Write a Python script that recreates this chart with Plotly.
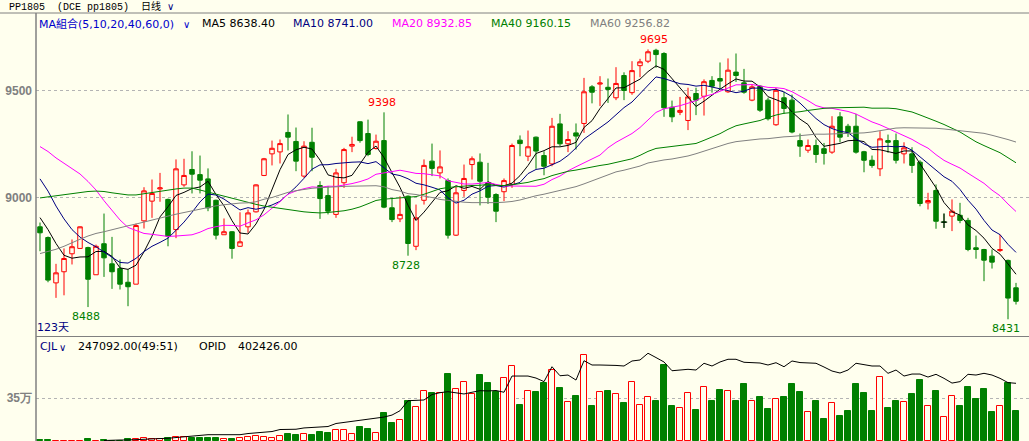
import plotly.graph_objects as go
import pandas as pd

# ---------------- data ----------------
open_ = [8863, 8813, 8601, 8653, 8737, 8762, 8766, 8639, 8784, 8690,
         8668, 8604, 8595, 8891, 8983, 9040, 8991, 8850, 9059, 9131,
         9107, 9087, 8987, 8826, 8840, 8772, 8863, 8933, 9103, 9204,
         9213, 9304, 9262, 9100, 9258, 9056, 9009, 8921, 9069, 9240,
         9354, 9299, 9229, 9266, 8952, 8900, 9006, 8772, 8987, 9170,
         9115, 9079, 8824, 9033, 9154, 9165, 9069, 9014, 9027, 9061,
         9268, 9193, 9282, 9196, 9157, 9344, 9251, 9302, 9346, 9517,
         9530, 9515, 9466, 9570, 9490, 9616, 9637, 9688, 9673, 9422,
         9398, 9360, 9486, 9473, 9547, 9556, 9494, 9586, 9536, 9455,
         9520, 9455, 9340, 9466, 9455, 9266, 9221, 9243, 9228, 9212,
         9377, 9333, 9333, 9214, 9174, 9134, 9266, 9266, 9204, 9204,
         9165, 8975, 9033, 8885, 8913, 8917, 8893, 8765, 8757, 8726,
         8752, 8706, 8578]
high = [8883, 8818, 8690, 8762, 8804, 8865, 8770, 8780, 8925, 8816,
        8710, 8664, 8878, 9048, 9084, 9115, 8995, 9178, 9181, 9216,
        9196, 9136, 8990, 8902, 8843, 8931, 8944, 9062, 9185, 9266,
        9271, 9388, 9327, 9263, 9326, 9076, 9053, 9134, 9232, 9284,
        9356, 9364, 9294, 9398, 8998, 9006, 9010, 8967, 9178, 9252,
        9220, 9089, 9050, 9154, 9192, 9206, 9162, 9020, 9089, 9252,
        9290, 9313, 9285, 9216, 9372, 9391, 9310, 9346, 9559, 9525,
        9567, 9556, 9609, 9585, 9637, 9648, 9692, 9695, 9679, 9453,
        9470, 9513, 9513, 9552, 9567, 9631, 9650, 9673, 9601, 9530,
        9525, 9466, 9512, 9494, 9481, 9299, 9271, 9271, 9255, 9380,
        9399, 9344, 9391, 9218, 9196, 9310, 9294, 9299, 9258, 9235,
        9174, 9022, 9061, 8925, 8991, 8975, 8905, 8822, 8760, 8757,
        8827, 8710, 8601]
low = [8749, 8604, 8531, 8543, 8687, 8760, 8488, 8639, 8629, 8573,
       8570, 8492, 8595, 8855, 8905, 8980, 8772, 8810, 9050, 9019,
       9019, 8936, 8804, 8826, 8714, 8770, 8835, 8930, 9100, 9150,
       9159, 9220, 9123, 9092, 9123, 8900, 8921, 8905, 9045, 9212,
       9256, 9193, 9224, 8950, 8885, 8885, 8728, 8754, 8967, 9100,
       9089, 8808, 8820, 9003, 9084, 8963, 8970, 8885, 8983, 9045,
       9193, 9170, 9134, 9104, 9146, 9240, 9212, 9224, 9302, 9440,
       9427, 9442, 9455, 9455, 9480, 9562, 9628, 9606, 9377, 9352,
       9385, 9315, 9385, 9383, 9490, 9509, 9489, 9540, 9485, 9450,
       9400, 9360, 9335, 9391, 9300, 9190, 9209, 9162, 9154, 9204,
       9258, 9283, 9205, 9118, 9139, 9100, 9209, 9159, 9159, 9115,
       8959, 8944, 8854, 8858, 8843, 8880, 8749, 8714, 8609, 8668,
       8745, 8431, 8500]
close = [8835, 8614, 8648, 8715, 8770, 8863, 8618, 8772, 8718, 8653,
         8595, 8583, 8869, 9031, 9019, 9045, 8819, 9134, 9103, 9109,
         9081, 8952, 8824, 8840, 8762, 8793, 8928, 9059, 9181, 9230,
         9252, 9282, 9170, 9240, 9188, 8995, 8936, 9115, 9224, 9248,
         9266, 9201, 9263, 8955, 8897, 8921, 8785, 8905, 9150, 9136,
         9143, 8824, 9022, 9089, 9181, 9076, 9001, 8936, 9079, 9243,
         9252, 9237, 9217, 9146, 9333, 9251, 9271, 9287, 9494, 9492,
         9535, 9505, 9533, 9500, 9593, 9634, 9681, 9668, 9419, 9377,
         9407, 9470, 9455, 9541, 9520, 9544, 9595, 9570, 9492, 9517,
         9408, 9368, 9501, 9416, 9306, 9240, 9243, 9201, 9206, 9333,
         9282, 9305, 9212, 9174, 9150, 9274, 9258, 9174, 9232, 9150,
         8972, 8986, 8889, 8885, 8936, 8893, 8757, 8757, 8707, 8698,
         8757, 8530, 8515]
volume = [8000, 8000, 2000, 2000, 2000, 2000, 16000, 2000, 8000, 3000,
          3000, 14000, 14000, 22000, 14000, 16000, 22000, 30000, 30000, 27000,
          27000, 27000, 27000, 14000, 19000, 24000, 35000, 43000, 35000, 27000,
          43000, 55000, 46000, 55000, 46000, 76000, 63000, 90000, 90000, 55000,
          116000, 100000, 68000, 225000, 144000, 171000, 328000, 274000, 409000, 388000,
          388000, 545000, 421000, 483000, 383000, 537000, 470000, 396000, 510000, 610000,
          293000, 409000, 396000, 475000, 578000, 429000, 315000, 366000, 700000, 285000,
          396000, 407000, 380000, 312000, 478000, 291000, 356000, 326000, 619000, 285000,
          266000, 388000, 252000, 437000, 326000, 415000, 405000, 326000, 464000, 323000,
          358000, 260000, 339000, 358000, 464000, 399000, 236000, 326000, 179000, 309000,
          204000, 244000, 464000, 391000, 244000, 518000, 269000, 326000, 315000, 383000,
          497000, 282000, 407000, 193000, 364000, 285000, 440000, 342000, 423000, 236000,
          282000, 472000, 247092]
opid = [None, None, None, None, None, None, None, None, 3500, 7000,
        7000, 7000, 10500, 12000, 14000, 17000, 19000, 24000, 31000, 38000,
        44000, 44000, 44000, 44000, 44000, 44000, 52000, 58000, 63000, 66000,
        80000, 82000, 82000, 91000, 96000, 98000, 101000, 122000, 129000, 136000,
        143000, 150000, 158000, 167000, 181000, 211000, 281000, 282000, 286000, 324000,
        337000, 344000, 338000, 328000, 340000, 351000, 349000, 352000, 340000, 453000,
        453000, 453000, 439000, 414000, 518000, 455000, 460000, 425000, 560000, 530000,
        530000, 530000, 527000, 523000, 558000, 565000, 612000, 582000, 551000, 490000,
        495000, 500000, 495000, 542000, 523000, 551000, 570000, 570000, 549000, 549000,
        544000, 530000, 546000, 518000, 558000, 547000, 544000, 542000, 516000, 488000,
        474000, 495000, 542000, 530000, 523000, 523000, 472000, 495000, 453000, 467000,
        467000, 446000, 465000, 437000, 404000, 414000, 465000, 460000, 472000, 460000,
        437000, 407000, 402426]

# moving-average values before each window is full
ma5_warm = [8906, 8850, 8785, 8730]
ma10_warm = [9087, 9030, 8960, 8900, 8850, 8815, 8790, 8770, 8745]
ma20_warm = [9238, 9215, 9185, 9160, 9135, 9110, 9075, 9035, 8985, 8940,
             8895, 8860, 8845, 8832, 8828, 8822, 8818, 8820, 8824]
ma40_warm = [8998, 9003, 9010, 9016, 9020, 9024, 9028, 9030, 9028, 9022,
             9017, 9012, 9012, 9018, 9025, 9030, 9035, 9040, 9044, 9044,
             9035, 9025, 9015, 9005, 8997, 8988, 8978, 8968, 8960, 8954,
             8948, 8942, 8937, 8933, 8930, 8928, 8930, 8933, 8938]
ma60_warm = [8738, 8748, 8758, 8772, 8790, 8805, 8820, 8832, 8840, 8850,
             8858, 8868, 8876, 8886, 8895, 8903, 8913, 8922, 8930, 8938,
             8946, 8955, 8961, 8966, 8971, 8974, 8975, 8980, 8992, 9000,
             9012, 9024, 9032, 9038, 9043, 9046, 9049, 9051, 9052, 9053,
             9054, 9056, 9055, 9050, 9037, 9030, 9018, 9014, 9008, 9000,
             8991, 8986, 8983, 8978, 8976, 8975, 8975, 8976, 8978]

ma_periods = [5, 10, 20, 40, 60]
ma_colors = ['#000000', '#000080', '#FF00FF', '#008000', '#808080']
ma_warm = [ma5_warm, ma10_warm, ma20_warm, ma40_warm, ma60_warm]
legend_vals = ['8638.40', '8741.00', '8932.85', '9160.15', '9256.82']

hi_marks = [43, 77]
lo_marks = [6, 46, 121]

# ---------------- figure ----------------
W, H = 1029, 441
BG = '#FFFFEE'
RED = '#FF0000'
GREEN = '#008000'
GRAY = '#808080'
n = len(close)
x = list(range(n))

fig = go.Figure()

fig.add_trace(go.Candlestick(
    x=x, open=open_, high=high, low=low, close=close,
    increasing=dict(line=dict(color=RED, width=1), fillcolor=BG),
    decreasing=dict(line=dict(color=GREEN, width=1), fillcolor=GREEN),
    whiskerwidth=0, hoverinfo='skip', showlegend=False,
    xaxis='x', yaxis='y'))

# doji candles (open == close) shown as black crosses
for i in range(n):
    if open_[i] == close[i]:
        fig.add_trace(go.Scatter(x=[i - 0.4, i + 0.4, None, i, i],
                                 y=[open_[i], open_[i], None, low[i], high[i]],
                                 mode='lines', line=dict(color='#000000', width=1),
                                 hoverinfo='skip', showlegend=False,
                                 xaxis='x', yaxis='y'))

cs = pd.Series(close, dtype=float)
for p, col, warm in zip(ma_periods, ma_colors, ma_warm):
    m = cs.rolling(p).mean().tolist()
    m[:p - 1] = warm
    fig.add_trace(go.Scatter(x=x, y=m, mode='lines', line=dict(color=col, width=1),
                             hoverinfo='skip', showlegend=False, xaxis='x', yaxis='y'))

up = [c >= o for o, c in zip(open_, close)]
fig.add_trace(go.Bar(
    x=x, y=volume, width=0.85,
    marker=dict(color=[BG if u else GREEN for u in up],
                line=dict(color=[RED if u else GREEN for u in up], width=1)),
    hoverinfo='skip', showlegend=False, xaxis='x2', yaxis='y2'))

fig.add_trace(go.Scatter(x=x, y=opid, mode='lines', line=dict(color='#000000', width=1),
                         hoverinfo='skip', showlegend=False, xaxis='x2', yaxis='y3'))

# high / low labels
for i in hi_marks:
    fig.add_annotation(x=i, y=high[i], xref='x', yref='y', text=str(high[i]),
                       showarrow=False, yanchor='bottom', yshift=1, xshift=-2,
                       font=dict(family='DejaVu Sans', size=11, color=RED))
for i in lo_marks:
    fig.add_annotation(x=i, y=low[i], xref='x', yref='y', text=str(low[i]),
                       showarrow=False, yanchor='top', yshift=-1, xshift=-2,
                       font=dict(family='DejaVu Sans', size=11, color=GREEN))

x_range = [-0.5, 123.625]
tickfont = dict(family='Liberation Sans, Arial', size=12, color=GRAY, weight='bold')
fig.update_layout(
    width=W, height=H, margin=dict(l=0, r=0, t=0, b=0),
    paper_bgcolor=BG, plot_bgcolor=BG, showlegend=False, boxgap=0.2, bargap=0,
    xaxis=dict(domain=[36 / W, 1], range=x_range, visible=False,
               rangeslider=dict(visible=False), fixedrange=True),
    yaxis=dict(domain=[1 - 336 / H, 1 - 13 / H], range=[8352.8, 9862.2],
               tickvals=[9000, 9500], ticktext=['9000', '9500'], ticks='',
               showgrid=True, gridcolor='#B4B4B4', griddash='dot', gridwidth=1,
               zeroline=False, showline=False, tickfont=tickfont, ticklabelstandoff=3),
    xaxis2=dict(domain=[36 / W, 1], range=x_range, visible=False, anchor='y2'),
    yaxis2=dict(domain=[0, 1 - 337 / H], range=[0, 846500],
                tickvals=[350000], ticktext=['35万'], ticks='',
                showgrid=True, gridcolor='#B4B4B4', griddash='dot', gridwidth=1,
                zeroline=False, showline=False, tickfont=tickfont, ticklabelstandoff=3),
    yaxis3=dict(overlaying='y2', range=[0, 725300], visible=False),
)

# frame lines
def hline(py, x0, x1):
    fig.add_shape(type='line', xref='paper', yref='paper', x0=x0 / W, x1=x1 / W,
                  y0=1 - py / H, y1=1 - py / H, line=dict(color=GRAY, width=1))

hline(13, 0, W)
hline(336.5, 36, W)
fig.add_shape(type='line', xref='paper', yref='paper', x0=36 / W, x1=36 / W,
              y0=0, y1=1 - 13 / H, line=dict(color=GRAY, width=1.5))

def txt(s, px, py, color, size=11, family='DejaVu Sans, Noto Sans CJK SC'):
    fig.add_annotation(text=s, xref='paper', yref='paper', x=px / W, y=1 - py / H,
                       xanchor='left', yanchor='middle', showarrow=False, borderpad=0,
                       font=dict(family=family, size=size, color=color))

mono = 'Liberation Mono, Noto Sans CJK SC'
txt('PP1805  (DCE pp1805)  日线', 8, 7, '#000000', size=10, family=mono)
txt('∨', 166, 6, '#000080', size=10)

txt('MA組合(5,10,20,40,60,0)', 38, 24, '#0000CC')
txt('∨', 182, 25, '#0000CC', size=10)
leg_x = [201, 292, 391, 490, 589]
for p, col, v, lx in zip(ma_periods, ma_colors, legend_vals, leg_x):
    txt(f'MA{p} {v}', lx, 24, col)

txt('123天', 36, 327, '#000080')
txt('CJL', 39, 346, '#000080')
txt('∨', 58, 347, '#000080', size=10)
txt('247092.00(49:51)', 77, 346, '#000000')
txt('OPID', 198, 346, '#000000')
txt('402426.00', 237, 346, '#000000')

fig.write_html('out.html')
